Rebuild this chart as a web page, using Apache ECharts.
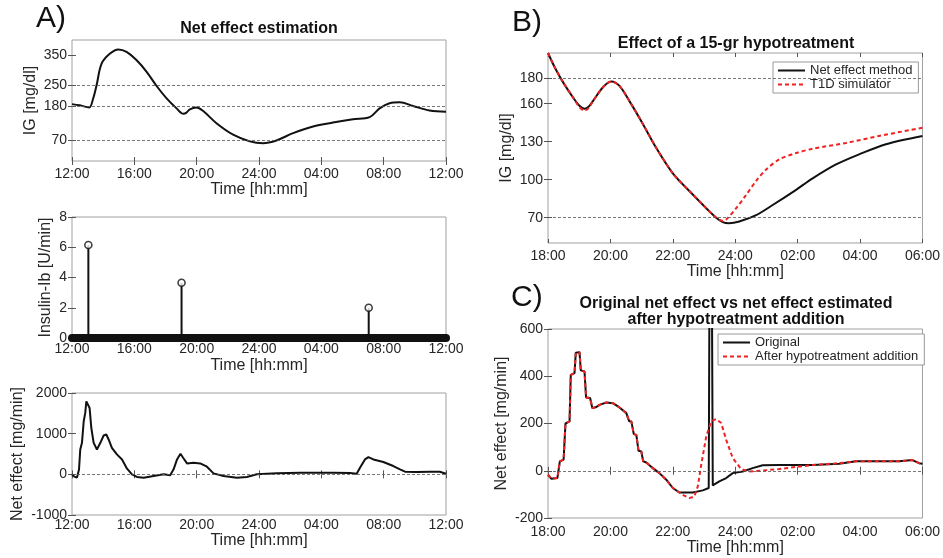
<!DOCTYPE html>
<html><head><meta charset="utf-8">
<script src="https://cdn.jsdelivr.net/npm/echarts@6/dist/echarts.min.js"></script>
<style>html,body{margin:0;padding:0;background:#fff}#c{width:943px;height:558px}</style>
</head><body><div id="c"></div>
<script>
// ---------- DATA ----------
const xLabelsA = ['12:00','16:00','20:00','24:00','04:00','08:00','12:00']; // hours from 12:00
const xLabelsBC = ['18:00','20:00','22:00','24:00','02:00','04:00','06:00']; // hours from 18:00
const igTicksA = [70,180,250,350];
const igTicksB = [70,100,130,160,180];
const igRefA = [70,180,250];
const igRefB = [70,180];

const igA = [[0,188],[0.5,184],[1.1,177],[1.35,205],[1.58,251],[1.9,322],[2.44,355],[2.97,369],[3.5,361],[4.15,333],[4.79,295],[5.43,248],[6.07,207],[6.71,174],[7.14,156],[7.35,160],[7.56,171],[7.99,177],[8.42,165],[9.27,125],[10.34,87],[11.41,65],[12.26,59],[13.12,68],[14.19,92],[15.47,114],[16.75,127],[18.03,138],[19.1,145],[19.74,174],[20.38,191],[21.03,194],[21.88,182],[22.95,167],[24,163]];

const insulinStems = [[1.05,6.15],[7.03,3.65],[19.04,2.0]];
const insulinZero = [[0,0],[24,0]];

const netA = [[0,0],[0.15,-57],[0.32,-80],[0.45,120],[0.53,610],[0.64,775],[0.75,1300],[0.85,1510],[0.92,1795],[1.03,1750],[1.13,1630],[1.24,1140],[1.39,775],[1.6,610],[1.82,775],[2.03,955],[2.2,980],[2.35,857],[2.56,653],[2.88,490],[3.21,367],[3.53,139],[3.85,0],[4.17,-65],[4.6,-82],[5.24,-41],[5.88,0],[6.3,-24],[6.52,122],[6.74,367],[6.96,506],[7.13,408],[7.38,269],[7.8,286],[8.23,269],[8.66,188],[9.08,24],[9.72,-41],[10.58,-82],[11.22,-65],[11.86,0],[13.15,24],[14.64,41],[16.77,41],[17.84,33],[18.27,16],[18.48,163],[18.8,367],[19.02,424],[19.34,367],[19.98,302],[20.62,204],[21.05,122],[21.37,65],[22.12,57],[22.97,65],[23.6,65],[24,16]];

const igNetEffect = [[0,200],[0.21,189],[0.48,177],[0.8,165],[1.0,158.5],[1.17,156],[1.3,157.5],[1.44,162],[1.76,173],[2.03,177.5],[2.29,174],[2.61,162],[3.04,144],[3.47,125],[4.0,105],[4.53,91],[5.07,77.5],[5.39,70],[5.6,66.5],[5.8,65.6],[6.13,67],[6.67,72],[7.2,80],[7.95,92],[8.48,101],[9.23,112],[9.97,120],[10.83,128],[12,134.5]];
const igT1D = [[0,200],[0.21,189],[0.48,177],[0.8,165],[1.0,157.5],[1.17,154.5],[1.3,156.5],[1.44,162],[1.76,173],[2.03,177.5],[2.29,174],[2.61,162],[3.04,144],[3.47,125],[4.0,105],[4.53,91],[5.07,77.5],[5.39,70],[5.6,67.5],[5.71,68.5],[6.03,77.5],[6.35,88],[6.67,99],[6.99,108],[7.41,116],[7.95,121],[8.48,124.4],[9.55,129],[10.61,134.5],[12,141]];

const netCommon = [[0,-17],[0.11,-34],[0.3,-31],[0.36,-28],[0.38,40],[0.5,47],[0.56,200],[0.69,209],[0.73,406],[0.85,413],[0.89,500],[1.01,502],[1.05,425],[1.17,420],[1.22,310],[1.35,308],[1.42,265],[1.55,270],[1.65,279],[1.87,289],[2.08,286],[2.29,268],[2.51,244],[2.6,210],[2.67,209],[2.75,155],[2.83,152],[2.9,85],[2.99,82],[3.05,40],[3.15,35],[3.36,11],[3.57,-10],[3.79,-38],[4.0,-73],[4.21,-92]];
const netOriginalTail = [[4.64,-92],[4.96,-83],[5.15,-73],[5.2,-72],[5.21,2000],[5.27,2000],[5.28,-62],[5.49,-45],[5.71,-31],[5.92,-10],[6.24,-3],[6.56,11],[6.88,23],[7.41,24],[8.48,24],[9.33,30],[9.87,40],[10.61,40],[11.25,40],[11.68,45],[11.89,32],[12,30]];
const netAfterTail = [[4.32,-102],[4.53,-116],[4.69,-109],[4.8,-66],[4.91,25],[5.07,145],[5.23,209],[5.39,219],[5.55,202],[5.71,131],[5.92,54],[6.19,7],[6.45,-3],[6.88,1],[7.41,7],[7.95,16],[8.48,24],[9.33,32],[9.87,40],[10.61,40],[11.25,40],[11.68,45],[11.89,32],[12,30]];

// ---------- STYLE ----------
const FONT = "'Liberation Sans', Arial, Helvetica, sans-serif";
const TXT = '#262626';
const grids = [
  {left:72, top:40, width:374, height:121},
  {left:72, top:217, width:374, height:121},
  {left:72, top:393, width:374, height:122},
  {left:548, top:53, width:375, height:190},
  {left:548, top:329, width:375, height:189}
].map(g => Object.assign({show:true, borderColor:'#a0a0a0', borderWidth:1, backgroundColor:'#fff', containLabel:false}, g));

const tick = {show:true, inside:true, length:4, lineStyle:{color:'#555', width:1}};
function xAx(gi, min, max, interval, labels, margin, nameGap) {
  return {type:'value', gridIndex:gi, min, max, interval,
    axisLine:{show:false}, axisTick:tick, splitLine:{show:false},
    axisLabel:{margin, fontSize:14, color:TXT, fontFamily:FONT, showMinLabel:true, showMaxLabel:true,
      formatter: v => labels[Math.round((v-min)/interval)] },
    name:'Time [hh:mm]', nameLocation:'middle', nameGap,
    nameTextStyle:{fontSize:16, color:TXT, fontFamily:FONT}};
}
function xTop(gi, min, max, interval) {
  return {type:'value', gridIndex:gi, position:'top', min, max, interval,
    axisLine:{show:false}, axisTick:tick, axisLabel:{show:false}, splitLine:{show:false}};
}
function yAx(gi, min, max, opt, name, nameGap) {
  const a = {type:'value', gridIndex:gi, min, max,
    axisLine:{show:false}, axisTick:Object.assign({}, tick), splitLine:{show:false},
    axisLabel:{margin:5, fontSize:14, color:TXT, fontFamily:FONT, showMinLabel:true, showMaxLabel:true,
      formatter: v => String(v)},
    name, nameLocation:'middle', nameGap, nameTextStyle:{fontSize:16, color:TXT, fontFamily:FONT}};
  if (opt.custom) { a.axisLabel.customValues = opt.custom; a.axisTick.customValues = opt.custom; }
  else a.interval = opt.interval;
  return a;
}
function yRight(gi, min, max, opt) {
  const a = {type:'value', gridIndex:gi, position:'right', min, max,
    axisLine:{show:false}, axisTick:Object.assign({}, tick), axisLabel:{show:false}, splitLine:{show:false}};
  if (opt.custom) { a.axisLabel.customValues = opt.custom; a.axisTick.customValues = opt.custom; }
  else a.interval = opt.interval;
  return a;
}
const refLine = vals => ({silent:true, symbol:'none', label:{show:false},
  lineStyle:{type:[3,2], color:'#555', width:0.8}, data: vals.map(v => ({yAxis:v}))});
const legendBase = {orient:'vertical', backgroundColor:'#fff', borderColor:'#999', borderWidth:1,
  padding:[2,6,2,4], itemGap:1, itemWidth:27, itemHeight:12,
  itemStyle:{opacity:0}, textStyle:{fontSize:13, color:TXT, fontFamily:FONT}};

const option = {
  animation:false,
  backgroundColor:'#fff',
  textStyle:{fontFamily:FONT},
  grid: grids,
  xAxis: [
    xAx(0,0,24,4,xLabelsA,6,21),
    xAx(1,0,24,4,xLabelsA,4,20),
    xAx(2,0,24,4,xLabelsA,3,18),
    xAx(3,0,12,2,xLabelsBC,6,20),
    xAx(4,0,12,2,xLabelsBC,7,20),
    xTop(0,0,24,4), xTop(1,0,24,4), xTop(2,0,24,4), xTop(3,0,12,2), xTop(4,0,12,2)
  ],
  yAxis: [
    yAx(0,0,400,{custom:igTicksA},'IG [mg/dl]',33),
    yAx(1,0,8,{interval:2},'Insulin-Ib [U/min]',18),
    yAx(2,-1000,2000,{interval:1000},'Net effect [mg/min]',46),
    yAx(3,50,200,{custom:igTicksB},'IG [mg/dl]',33),
    yAx(4,-200,600,{interval:200},'Net effect [mg/min]',38),
    yRight(0,0,400,{custom:igTicksA}), yRight(1,0,8,{interval:2}), yRight(2,-1000,2000,{interval:1000}),
    yRight(3,50,200,{custom:igTicksB}), yRight(4,-200,600,{interval:200})
  ],
  legend: [
    Object.assign({data:['Net effect method','T1D simulator'], left:773, top:62}, legendBase),
    Object.assign({data:['Original','After hypotreatment addition'], left:718, top:334}, legendBase)
  ],
  graphic: [
    {type:'text', x:36, y:4, style:{text:'A)', fontSize:30, fill:'#111', fontFamily:FONT}},
    {type:'text', x:512, y:8, style:{text:'B)', fontSize:30, fill:'#111', fontFamily:FONT}},
    {type:'text', x:511, y:283, style:{text:'C)', fontSize:30, fill:'#111', fontFamily:FONT}},
    {type:'text', x:259, y:29, style:{text:'Net effect estimation', fontSize:16, fontWeight:'bold', fill:'#111', fontFamily:FONT, align:'center', verticalAlign:'middle'}},
    {type:'text', x:736, y:44, style:{text:'Effect of a 15-gr hypotreatment', fontSize:16, fontWeight:'bold', fill:'#111', fontFamily:FONT, align:'center', verticalAlign:'middle'}},
    {type:'text', x:736, y:304, style:{text:'Original net effect vs net effect estimated', fontSize:16, fontWeight:'bold', fill:'#111', fontFamily:FONT, align:'center', verticalAlign:'middle'}},
    {type:'text', x:736, y:320, style:{text:'after hypotreatment addition', fontSize:16, fontWeight:'bold', fill:'#111', fontFamily:FONT, align:'center', verticalAlign:'middle'}}
  ],
  series: [
    {type:'line', xAxisIndex:0, yAxisIndex:0, data:igA, smooth:0.35, symbol:'none',
     lineStyle:{color:'#111', width:2}, markLine:refLine(igRefA)},
    {type:'line', xAxisIndex:1, yAxisIndex:1, data:insulinZero, symbol:'none', clip:false,
     lineStyle:{color:'#111', width:8, cap:'round'}},
    {type:'bar', xAxisIndex:1, yAxisIndex:1, data:insulinStems, barWidth:2, itemStyle:{color:'#111'}},
    {type:'scatter', xAxisIndex:1, yAxisIndex:1, data:insulinStems, symbol:'circle', symbolSize:7, z:5,
     itemStyle:{color:'#fff', borderColor:'#111', borderWidth:1.6}},
    {type:'line', xAxisIndex:2, yAxisIndex:2, data:netA, symbol:'none',
     lineStyle:{color:'#111', width:2}, markLine:refLine([0])},
    {name:'Net effect method', type:'line', xAxisIndex:3, yAxisIndex:3, data:igNetEffect, smooth:0.3, symbol:'none',
     lineStyle:{color:'#111', width:2}, itemStyle:{color:'#111'}, markLine:refLine(igRefB)},
    {name:'T1D simulator', type:'line', xAxisIndex:3, yAxisIndex:3, data:igT1D, smooth:0.3, symbol:'none', z:3,
     lineStyle:{color:'#ee2222', width:2, type:[4,3]}, itemStyle:{color:'#ee2222'}},
    {name:'Original', type:'line', xAxisIndex:4, yAxisIndex:4, data:netCommon.concat(netOriginalTail), symbol:'none',
     lineStyle:{color:'#111', width:2}, itemStyle:{color:'#111'}, markLine:refLine([0])},
    {name:'After hypotreatment addition', type:'line', xAxisIndex:4, yAxisIndex:4, data:netCommon.concat(netAfterTail), symbol:'none', z:3,
     lineStyle:{color:'#ee2222', width:2, type:[4,3]}, itemStyle:{color:'#ee2222'}}
  ]
};
const chart = echarts.init(document.getElementById('c'), null, {renderer:'canvas'});
chart.setOption(option);
</script></body></html>
